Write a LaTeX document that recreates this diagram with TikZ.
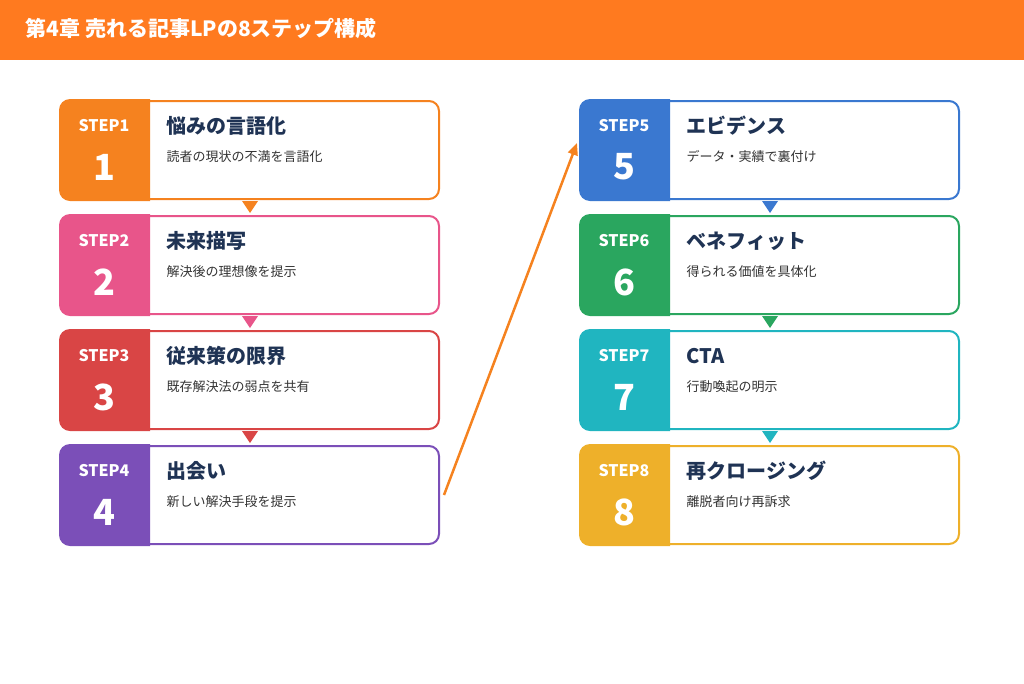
\documentclass[tikz,border=0pt]{standalone}
\usepackage{fontspec}
\setmainfont{Noto Sans CJK JP}
\usetikzlibrary{positioning,calc,arrows.meta}
\definecolor{hdr}{HTML}{FF7A1F}
\definecolor{navy}{HTML}{1F3354}
\definecolor{subtx}{HTML}{333333}
\definecolor{cA}{HTML}{F5821F}
\definecolor{cB}{HTML}{E8558A}
\definecolor{cC}{HTML}{D94545}
\definecolor{cD}{HTML}{7B4FB8}
\definecolor{cE}{HTML}{3A78D0}
\definecolor{cF}{HTML}{2AA65F}
\definecolor{cG}{HTML}{20B5C0}
\definecolor{cH}{HTML}{EEB02A}
\tikzset{
  card/.style={draw=#1, line width=2pt, rounded corners=10pt, fill=white,
    minimum width=378pt, minimum height=98pt, inner sep=0pt},
  steplbl/.style={text=white, font=\bfseries\fontsize{16}{16}\selectfont},
  stepnum/.style={text=white, font=\bfseries\fontsize{36}{36}\selectfont},
  ttl/.style={text=navy, anchor=west, font=\bfseries\fontsize{20}{20}\selectfont},
  sub/.style={text=subtx, anchor=west, font=\fontsize{13}{13}\selectfont},
}
\begin{document}
\begin{tikzpicture}[x=1pt,y=-1pt]
    \useasboundingbox (0,0) rectangle (1024,683);
    \fill[hdr] (0,0) rectangle (1024,60);
    \node[anchor=west, text=white, font=\bfseries\fontsize{21}{21}\selectfont] (title) at (22,28) {第4章 売れる記事LPの8ステップ構成};

    % cards: number / x / y / colour / title / subtitle
    \foreach \n/\x/\y/\c/\t/\s in {
      1/250/150/cA/悩みの言語化/読者の現状の不満を言語化,
      2/250/265/cB/未来描写/解決後の理想像を提示,
      3/250/380/cC/従来策の限界/既存解決法の弱点を共有,
      4/250/495/cD/出会い/新しい解決手段を提示,
      5/770/150/cE/エビデンス/データ・実績で裏付け,
      6/770/265/cF/ベネフィット/得られる価値を具体化,
      7/770/380/cG/CTA/行動喚起の明示,
      8/770/495/cH/再クロージング/離脱者向け再訴求}{
      \node[card=\c] (c\n) at (\x,\y) {};
      \fill[\c] ([xshift=-1pt,yshift=1pt]c\n.north west) [rounded corners=11pt]
        -- ([xshift=-1pt,yshift=-1pt]c\n.south west) [sharp corners]
        -- ([xshift=90pt,yshift=-1pt]c\n.south west)
        -- ([xshift=90pt,yshift=1pt]c\n.north west) [rounded corners=11pt] -- cycle;
      \node[steplbl] (s\n) at ([xshift=44pt,yshift=-26pt]c\n.north west) {STEP\n};
      \node[stepnum] (n\n) at ([xshift=44pt,yshift=-67pt]c\n.north west) {\n};
      \node[ttl] (t\n) at ([xshift=103pt,yshift=-26pt]c\n.north west) {\t};
      \node[sub] (u\n) at ([xshift=103pt,yshift=-57pt]c\n.north west) {\s};
    }
    % small pointers between cards
    \foreach \a/\c in {1/cA,2/cB,3/cC,5/cE,6/cF,7/cG}{
      \fill[\c] ([xshift=-8pt,yshift=-1pt]c\a.south) -- ([xshift=8pt,yshift=-1pt]c\a.south)
        -- ([yshift=-13pt]c\a.south) -- cycle;
    }
    % jump from step 4 to step 5
    \coordinate (jumpA) at ([xshift=4pt]c4.east);
    \coordinate (jumpB) at ([xshift=-3pt,yshift=7pt]c5.west);
    \draw[cA, line width=2.5pt, -{Triangle[length=12pt,width=10pt]}] (jumpA) -- (jumpB);
\end{tikzpicture}
\end{document}
